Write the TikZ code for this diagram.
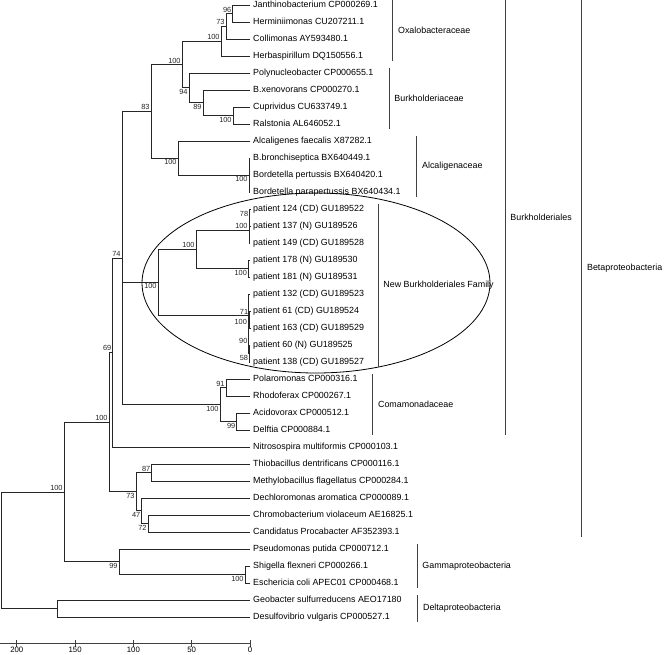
\documentclass[tikz,border=0pt]{standalone}
\usepackage{fontspec}
\setmainfont{Liberation Sans}

\tikzset{
  branch/.style={draw=black!85, line width=0.8pt},
  leaf/.style={anchor=west, inner sep=3pt, font=\fontsize{8.9}{10}\selectfont, text height=6.4pt, text depth=1.8pt},
  boot/.style={inner sep=1.2pt, font=\fontsize{7.4}{8}\selectfont, text=black!85},
  bracket/.style={draw=black!75, line width=0.8pt},
  clade/.style={anchor=west, xshift=3pt, inner sep=2pt, font=\fontsize{8.9}{10}\selectfont},
  axis/.style={draw=black!75, line width=0.8pt},
  ticklab/.style={inner sep=0.6pt, font=\fontsize{7.8}{9}\selectfont},
}

\begin{document}
\begin{tikzpicture}[x=1pt, y=-1pt]
    \useasboundingbox (0,0) rectangle (664,655);
    % Leaves:
    \node[leaf] (jan) at (250,5) {Janthinobacterium CP000269.1};
    \node[leaf] (herm) at (250,22) {Herminiimonas CU207211.1};
    \node[leaf] (colli) at (250,39) {Collimonas AY593480.1};
    \node[leaf] (herba) at (250,56) {Herbaspirillum DQ150556.1};
    \node[leaf] (polyn) at (250,73) {Polynucleobacter CP000655.1};
    \node[leaf] (bxeno) at (250,90) {B.xenovorans CP000270.1};
    \node[leaf] (cupri) at (250,107) {Cuprividus CU633749.1};
    \node[leaf] (ralst) at (250,124) {Ralstonia AL646052.1};
    \node[leaf] (alcal) at (250,141) {Alcaligenes faecalis X87282.1};
    \node[leaf] (bbron) at (250,158) {B.bronchiseptica BX640449.1};
    \node[leaf] (bpert) at (250,175) {Bordetella pertussis BX640420.1};
    \node[leaf] (bpara) at (250,192) {Bordetella parapertussis BX640434.1};
    \node[leaf] (p124) at (250,209) {patient 124 (CD) GU189522};
    \node[leaf] (p137) at (250,226) {patient 137 (N) GU189526};
    \node[leaf] (p149) at (250,243) {patient 149 (CD) GU189528};
    \node[leaf] (p178) at (250,260) {patient 178 (N) GU189530};
    \node[leaf] (p181) at (250,277) {patient 181 (N) GU189531};
    \node[leaf] (p132) at (250,294) {patient 132 (CD) GU189523};
    \node[leaf] (p61) at (250,311) {patient 61 (CD) GU189524};
    \node[leaf] (p163) at (250,328) {patient 163 (CD) GU189529};
    \node[leaf] (p60) at (250,345) {patient 60 (N) GU189525};
    \node[leaf] (p138) at (250,362) {patient 138 (CD) GU189527};
    \node[leaf] (polar) at (250,379) {Polaromonas CP000316.1};
    \node[leaf] (rhodo) at (250,396) {Rhodoferax CP000267.1};
    \node[leaf] (acido) at (250,413) {Acidovorax CP000512.1};
    \node[leaf] (delft) at (250,430) {Delftia CP000884.1};
    \node[leaf] (nitro) at (250,447) {Nitrosospira multiformis CP000103.1};
    \node[leaf] (thio) at (250,464) {Thiobacillus dentrificans CP000116.1};
    \node[leaf] (methy) at (250,481) {Methylobacillus flagellatus CP000284.1};
    \node[leaf] (dechl) at (250,498) {Dechloromonas aromatica CP000089.1};
    \node[leaf] (chrom) at (250,515) {Chromobacterium violaceum AE16825.1};
    \node[leaf] (candi) at (250,532) {Candidatus Procabacter AF352393.1};
    \node[leaf] (pseud) at (250,549) {Pseudomonas putida CP000712.1};
    \node[leaf] (shig) at (250,566) {Shigella flexneri CP000266.1};
    \node[leaf] (esch) at (250,583) {Eschericia coli APEC01 CP000468.1};
    \node[leaf] (geob) at (250,600) {Geobacter sulfurreducens AEO17180};
    \node[leaf] (desul) at (250,617) {Desulfovibrio vulgaris CP000527.1};

    % Inner nodes of the tree:
    \coordinate (a96) at (232.7,13.5);
    \coordinate (a73) at (226,26.25);
    \coordinate (aOxa) at (221,41.1);
    \coordinate (aCR) at (233,115.5);
    \coordinate (a89) at (203,102.75);
    \coordinate (a94) at (189,87.9);
    \coordinate (aBB) at (182,64.5);
    \coordinate (aBord) at (249,175);
    \coordinate (aAlc) at (178,158);
    \coordinate (a83) at (151,111.25);
    \coordinate (a78) at (249.6,217.5);
    \coordinate (aP1) at (249,230.25);
    \coordinate (aP2) at (248.3,268.5);
    \coordinate (aPA) at (196,249.4);
    \coordinate (a71) at (249.6,319.5);
    \coordinate (a58) at (249.4,353.5);
    \coordinate (a90) at (248.8,336.5);
    \coordinate (aPB) at (248.3,315.25);
    \coordinate (aNew) at (158,282.3);
    \coordinate (a91) at (226,387.5);
    \coordinate (a99c) at (236.7,421.5);
    \coordinate (aCom) at (220,404.5);
    \coordinate (a74) at (122,257.9);
    \coordinate (a69) at (112.7,352.45);
    \coordinate (a87) at (151.7,472.5);
    \coordinate (a72) at (148,523.5);
    \coordinate (a47) at (141.7,510.75);
    \coordinate (a73b) at (136,491.6);
    \coordinate (a100c) at (109,422);
    \coordinate (aSE) at (245,574.5);
    \coordinate (a99) at (119,561.75);
    \coordinate (a100d) at (64,491.9);
    \coordinate (aDel) at (57,608.5);
    \coordinate (root) at (1,550.2);

    % Branches:
    \draw[branch] (a96) |- (jan.west) (a96) |- (herm.west);
    \draw[branch] (a73) |- (a96) (a73) |- (colli.west);
    \draw[branch] (aOxa) |- (a73) (aOxa) |- (herba.west);
    \draw[branch] (aCR) |- (cupri.west) (aCR) |- (ralst.west);
    \draw[branch] (a89) |- (bxeno.west) (a89) |- (aCR);
    \draw[branch] (a94) |- (polyn.west) (a94) |- (a89);
    \draw[branch] (aBB) |- (aOxa) (aBB) |- (a94);
    \draw[branch] (aBord) |- (bbron.west) (aBord) |- (bpert.west) (aBord) |- (bpara.west);
    \draw[branch] (aAlc) |- (alcal.west) (aAlc) |- (aBord);
    \draw[branch] (a83) |- (aBB) (a83) |- (aAlc);
    \draw[branch] (a78) |- (p124.west) (a78) |- (p137.west);
    \draw[branch] (aP1) |- (a78) (aP1) |- (p149.west);
    \draw[branch] (aP2) |- (p178.west) (aP2) |- (p181.west);
    \draw[branch] (aPA) |- (aP1) (aPA) |- (aP2);
    \draw[branch] (a71) |- (p61.west) (a71) |- (p163.west);
    \draw[branch] (a58) |- (p60.west) (a58) |- (p138.west);
    \draw[branch] (a90) |- (a71) (a90) |- (a58);
    \draw[branch] (aPB) |- (p132.west) (aPB) |- (a90);
    \draw[branch] (aNew) |- (aPA) (aNew) |- (aPB);
    \draw[branch] (a91) |- (polar.west) (a91) |- (rhodo.west);
    \draw[branch] (a99c) |- (acido.west) (a99c) |- (delft.west);
    \draw[branch] (aCom) |- (a91) (aCom) |- (a99c);
    \draw[branch] (a74) |- (a83) (a74) |- (aNew) (a74) |- (aCom);
    \draw[branch] (a69) |- (a74) (a69) |- (nitro.west);
    \draw[branch] (a87) |- (thio.west) (a87) |- (methy.west);
    \draw[branch] (a72) |- (chrom.west) (a72) |- (candi.west);
    \draw[branch] (a47) |- (dechl.west) (a47) |- (a72);
    \draw[branch] (a73b) |- (a87) (a73b) |- (a47);
    \draw[branch] (a100c) |- (a69) (a100c) |- (a73b);
    \draw[branch] (aSE) |- (shig.west) (aSE) |- (esch.west);
    \draw[branch] (a99) |- (pseud.west) (a99) |- (aSE);
    \draw[branch] (a100d) |- (a100c) (a100d) |- (a99);
    \draw[branch] (aDel) |- (geob.west) (aDel) |- (desul.west);
    \draw[branch] (root) |- (a100d) (root) |- (aDel);

    % Bootstrap values:
    \node[boot, above left] (b96) at (a96) {96};
    \node[boot, above left] (b73) at (a73) {73};
    \node[boot, above left] (bOxa) at (aOxa) {100};
    \node[boot, below left] (bCR) at (aCR) {100};
    \node[boot, below left] (b89) at (a89) {89};
    \node[boot, below left] (b94) at (a94) {94};
    \node[boot, above left] (bBB) at (aBB) {100};
    \node[boot, below left] (bBord) at (aBord) {100};
    \node[boot, below left] (bAlc) at (aAlc) {100};
    \node[boot, above left] (b83) at (a83) {83};
    \node[boot, above left] (b78) at (a78) {78};
    \node[boot, above left] (bP1) at (aP1) {100};
    \node[boot, below left] (bP2) at (aP2) {100};
    \node[boot, above left] (bPA) at (aPA) {100};
    \node[boot, above left, yshift=4pt] (b71) at (a71) {71};
    \node[boot, below left, yshift=-3pt] (bPB) at (aPB) {100};
    \node[boot, below left] (b90) at (a90) {90};
    \node[boot, below left] (b58) at (a58) {58};
    \node[boot, below left] (bNew) at (aNew) {100};
    \node[boot, above left] (b91) at (a91) {91};
    \node[boot, below left] (b99c) at (a99c) {99};
    \node[boot, below left] (bCom) at (aCom) {100};
    \node[boot, above left] (b74) at (a74) {74};
    \node[boot, above left] (b69) at (a69) {69};
    \node[boot, above left] (b87) at (a87) {87};
    \node[boot, below left] (b72) at (a72) {72};
    \node[boot, below left] (b47) at (a47) {47};
    \node[boot, below left] (b73b) at (a73b) {73};
    \node[boot, above left] (b100c) at (a100c) {100};
    \node[boot, below left] (bSE) at (aSE) {100};
    \node[boot, below left] (b99) at (a99) {99};
    \node[boot, above left] (b100d) at (a100d) {100};

    % Ring round the new family:
    \draw[line width=0.8pt] (316,283) ellipse [x radius=174, y radius=90];

    % Clade brackets:
    \draw[bracket] (392.7,0) -- node[clade] (oxa) {Oxalobacteraceae} (392.7,61);
    \draw[bracket] (389,68) -- node[clade] (burkc) {Burkholderiaceae} (389,129);
    \draw[bracket] (416.7,136) -- node[clade] (alc) {Alcaligenaceae} (416.7,197);
    \draw[bracket] (378,204) -- node[clade] (newfam) {New Burkholderiales Family} (378,367);
    \draw[bracket] (372.7,374) -- node[clade] (coma) {Comamonadaceae} (372.7,435);
    \draw[bracket] (505,0) -- node[clade] (burko) {Burkholderiales} (505,435);
    \draw[bracket] (581.7,0) -- node[clade] (beta) {Betaproteobacteria} (581.7,537);
    \draw[bracket] (417,544) -- node[clade] (gamma) {Gammaproteobacteria} (417,588);
    \draw[bracket] (417.7,595) -- node[clade] (delta) {Deltaproteobacteria} (417.7,622);

    % Scale:
    \draw[axis] (0,643) -- (250,643);
    \draw[axis] (16.8,640) -- (16.8,646.5) node[ticklab, below] (s200) {200};
    \draw[axis] (75.1,640) -- (75.1,646.5) node[ticklab, below] (s150) {150};
    \draw[axis] (133.4,640) -- (133.4,646.5) node[ticklab, below] (s100) {100};
    \draw[axis] (191.7,640) -- (191.7,646.5) node[ticklab, below] (s50) {50};
    \draw[axis] (250,640) -- (250,646.5) node[ticklab, below] (s0) {0};
\end{tikzpicture}
\end{document}
